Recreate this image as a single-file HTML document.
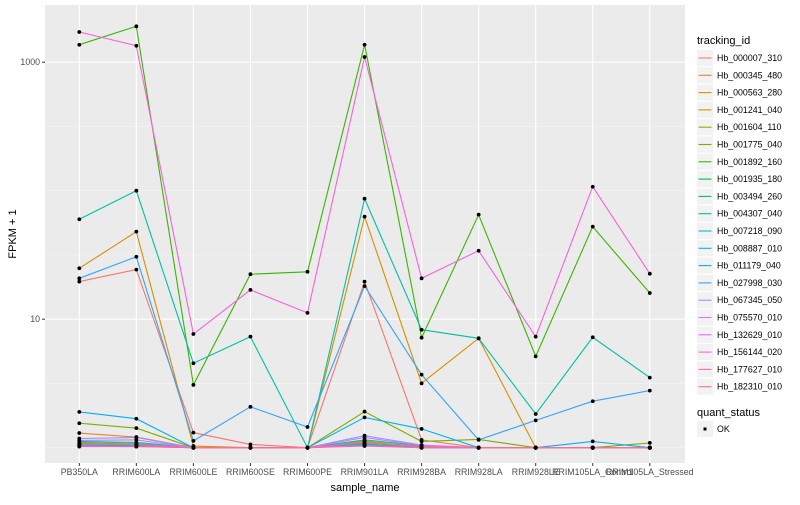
<!DOCTYPE html>
<html><head><meta charset="utf-8"><style>
body{margin:0;background:#fff;font-family:"Liberation Sans",sans-serif;}
svg text{font-family:"Liberation Sans",sans-serif;}
</style></head><body>
<svg id="chart" width="800" height="500" xmlns="http://www.w3.org/2000/svg"></svg>
<script>
const categories=["PB350LA","RRIM600LA","RRIM600LE","RRIM600SE","RRIM600PE","RRIM901LA","RRIM928BA","RRIM928LA","RRIM928LE","RRIM105LA_Control","RRIM105LA_Stressed"];
const seriesIds=["Hb_000007_310","Hb_000345_480","Hb_000563_280","Hb_001241_040","Hb_001604_110","Hb_001775_040","Hb_001892_160","Hb_001935_180","Hb_003494_260","Hb_004307_040","Hb_007218_090","Hb_008887_010","Hb_011179_040","Hb_027998_030","Hb_067345_050","Hb_075570_010","Hb_132629_010","Hb_156144_020","Hb_177627_010","Hb_182310_010"];
const seriesColors=["#F8766D","#EA8331","#D89000","#C09B00","#A3A500","#7CAE00","#39B600","#00BB4E","#00BF7D","#00C1A3","#00BFC4","#00BAE0","#00B0F6","#35A2FF","#9590FF","#C77CFF","#E76BF3","#FA62DB","#FF62BC","#FF6C91"];
const s000007=[19.6,24.3,1.31,1.06,1,19.6,1.15,1,1,1,1];
const s000345=[1.30,1.21,1,1,1,1.13,1,1,1,1,1];
const s000563=[24.9,48.0,1.03,1,1,62.8,3.17,7.10,1,1,1];
const s001241=[1.10,1.08,1,1,1,1.12,1.02,1,1,1,1];
const s001604=[1.06,1.05,1,1,1,1.07,1.01,1,1,1,1];
const s001775=[1.55,1.42,1,1,1,1.91,1.12,1.16,1,1,1.09];
const s001892=[1368,1902,3.08,22.4,23.4,1368,7.18,65.1,5.14,52.5,16.0];
const s001935=[1.04,1.03,1,1,1,1.05,1,1,1,1,1];
const s003494=[1.08,1.06,1,1,1,1.09,1.03,1,1,1,1];
const s004307=[59.9,100,4.54,7.31,1,86.7,8.28,7.10,1.83,7.23,3.51];
const s007218=[1.12,1.10,1,1,1,1.15,1.04,1,1,1,1];
const s008887=[1.05,1.04,1,1,1,1.06,1,1,1,1,1];
const s011179=[1.90,1.68,1,1,1,1.72,1.40,1,1,1.12,1];
const s027998=[20.8,30.6,1.13,2.08,1.45,18.1,3.70,1.15,1.63,2.30,2.78];
const s067345=[1.18,1.20,1,1,1,1.24,1.05,1,1,1,1];
const s075570=[1.14,1.15,1,1,1,1.20,1.04,1,1,1,1];
const s132629=[1.03,1.02,1,1,1,1.04,1,1,1,1,1];
const s156144=[1718,1343,7.67,16.9,11.2,1097,20.8,34.1,7.31,107.4,22.6];
const s177627=[1.02,1.02,1,1,1,1.03,1,1,1,1,1];
const s182310=[1.07,1.06,1,1,1,1.10,1.02,1,1,1,1];
const seriesValues=[s000007,s000345,s000563,s001241,s001604,s001775,s001892,s001935,s003494,s004307,s007218,s008887,s011179,s027998,s067345,s075570,s132629,s156144,s177627,s182310];
const yTickValues=[10,1000];
const yTickLabels=["10","1000"];

const NS="http://www.w3.org/2000/svg";
const svg=document.getElementById("chart");
function mk(tag,attrs,parent){const e=document.createElementNS(NS,tag);for(const k in attrs)e.setAttribute(k,attrs[k]);(parent||svg).appendChild(e);return e;}
const P={l:45,r:685,t:5,b:463};
const x0=79.3,dx=57.05;
function xScale(i){return x0+i*dx;}
function yScale(v){return 447.7-Math.log10(v)*128.5;}

const panel=mk("rect",{x:P.l,y:P.t,width:P.r-P.l,height:P.b-P.t,fill:"#EBEBEB"});


// minor grid
[Math.sqrt(10),100,Math.sqrt(10)*10,Math.sqrt(10)*100,10000/Math.sqrt(10)].forEach(v=>{const y=yScale(v);if(y>P.t&&y<P.b){const g=mk("line",{x1:P.l,x2:P.r,y1:y,y2:y,stroke:"#F5F5F5","stroke-width":0.6});}});
[1].forEach(v=>{const y=yScale(v);const g=mk("line",{x1:P.l,x2:P.r,y1:y,y2:y,stroke:"#F5F5F5","stroke-width":0.6});});
yTickValues.forEach((v,i)=>{const y=yScale(v);
const g=mk("line",{x1:P.l,x2:P.r,y1:y,y2:y,stroke:"#fff","stroke-width":1.1});


mk("line",{x1:P.l-3,x2:P.l,y1:y,y2:y,stroke:"#333","stroke-width":1});
const t=mk("text",{x:P.l-5,y:y+3,"font-size":"8.8","text-anchor":"end",fill:"#4D4D4D"});t.textContent=yTickLabels[i];


});
categories.forEach((c,i)=>{const x=xScale(i);
const g=mk("line",{x1:x,x2:x,y1:P.t,y2:P.b,stroke:"#fff","stroke-width":1.1});


mk("line",{x1:x,x2:x,y1:P.b,y2:P.b+3,stroke:"#333","stroke-width":1});
const t=mk("text",{x:x,y:P.b+12,"font-size":"8.8","text-anchor":"middle",fill:"#4D4D4D"});t.textContent=c;


});
// lines
seriesValues.forEach((vals,si)=>{
const pts=vals.map((v,i)=>xScale(i).toFixed(1)+","+yScale(v).toFixed(1)).join(" ");
const pl=mk("polyline",{points:pts,fill:"none",stroke:seriesColors[si],"stroke-width":1.1});


});
seriesValues.forEach((vals,si)=>{vals.forEach((v,i)=>{
const c=mk("circle",{cx:xScale(i),cy:yScale(v),r:1.9,fill:"#000"});


});});
// axis titles
const xt=mk("text",{x:(P.l+P.r)/2,y:491,"font-size":"11","text-anchor":"middle",fill:"#000"});xt.textContent="sample_name";


const yt=mk("text",{x:0,y:0,"font-size":"11","text-anchor":"middle",fill:"#000",transform:"translate(16,234) rotate(-90)"});yt.textContent="FPKM + 1";


// legend
const lt=mk("text",{x:697,y:44,"font-size":"11",fill:"#000"});lt.textContent="tracking_id";


seriesIds.forEach((id,i)=>{const y=50+i*17.3;
const b=mk("rect",{x:697,y:y,width:16,height:16,fill:"#F2F2F2"});


mk("line",{x1:698.5,x2:711.5,y1:y+8,y2:y+8,stroke:seriesColors[i],"stroke-width":1.1});
const t=mk("text",{x:717,y:y+11,"font-size":"8.8",fill:"#000"});t.textContent=id;


});
const qt=mk("text",{x:697,y:416,"font-size":"11",fill:"#000"});qt.textContent="quant_status";


const qb=mk("rect",{x:697,y:421,width:16,height:16,fill:"#F2F2F2"});


mk("rect",{x:703.5,y:427.5,width:3,height:3,fill:"#000"});
const qo=mk("text",{x:717,y:432,"font-size":"8.8",fill:"#000"});qo.textContent="OK";


</script>
</body></html>
